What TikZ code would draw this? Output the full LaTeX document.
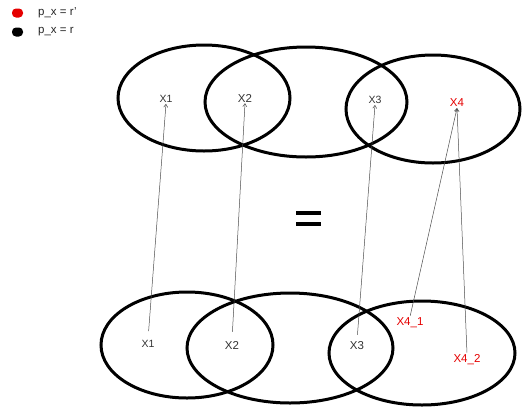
\documentclass[tikz,border=0pt]{standalone}
\usepackage{fontspec}
\setmainfont{Liberation Sans}
\usetikzlibrary{arrows.meta}
\begin{document}
\begin{tikzpicture}[x=1pt,y=-1pt,
  set/.style={line width=3pt},
  lbl/.style={font=\fontsize{11.5}{13}\selectfont, text=black!80, inner sep=1pt},
  slbl/.style={lbl, font=\fontsize{10.5}{12}\selectfont},
  rlbl/.style={lbl, text=red!90!black},
  link/.style={draw=black!70, line width=0.5pt, -{Straight Barb[length=3pt,width=4pt]}},
  legtxt/.style={font=\fontsize{11.5}{13}\selectfont, anchor=west, inner sep=0pt, text=black!85},
  legdot/.style={rounded corners=4pt}]
\useasboundingbox (0,0) rectangle (525,408);
% legend
\fill[red!90!black, legdot] (12,8.5) rectangle (23,17.5);
\node[legtxt] (lg1) at (38,13) {p\_x = r'};
\fill[black, legdot] (12,27.5) rectangle (23,36.5);
\node[legtxt] (lg2) at (38,32) {p\_x = r};
% top sets
\draw[set] (204,98) ellipse [x radius=86, y radius=53];
\draw[set] (306,102) ellipse [x radius=101, y radius=55];
\draw[set] (433,109) ellipse [x radius=87, y radius=54];
% bottom sets
\draw[set] (187,345) ellipse [x radius=86, y radius=53];
\draw[set] (290,348) ellipse [x radius=103, y radius=55];
\draw[set] (422,353) ellipse [x radius=93, y radius=52];
% equals
\fill (296,211) rectangle (321,215);
\fill (296,222) rectangle (321,226);
% top labels
\node[slbl] (t1) at (166,99) {X1};
\node[lbl] (t2) at (245,98) {X2};
\node[slbl] (t3) at (375,100) {X3};
\node[rlbl] (t4) at (457,103) {X4};
% bottom labels
\node[slbl] (b1) at (148,344) {X1};
\node[lbl] (b2) at (232,345) {X2};
\node[lbl] (b3) at (357,346) {X3};
\node[rlbl] (b41) at (410,323) {X4\_1};
\node[rlbl] (b42) at (467,360) {X4\_2};
% links
\draw[link, shorten <=8pt] (b1.north) -- (t1.south);
\draw[link, shorten <=8pt] (b2.north) -- (t2.south);
\draw[link, shorten <=6pt] (b3.north) -- (t3.south);
\draw[link, shorten <=1pt] (b41.north) -- (t4.south);
\draw[link, shorten <=1pt] (b42.north) -- (t4.south);
\end{tikzpicture}
\end{document}
